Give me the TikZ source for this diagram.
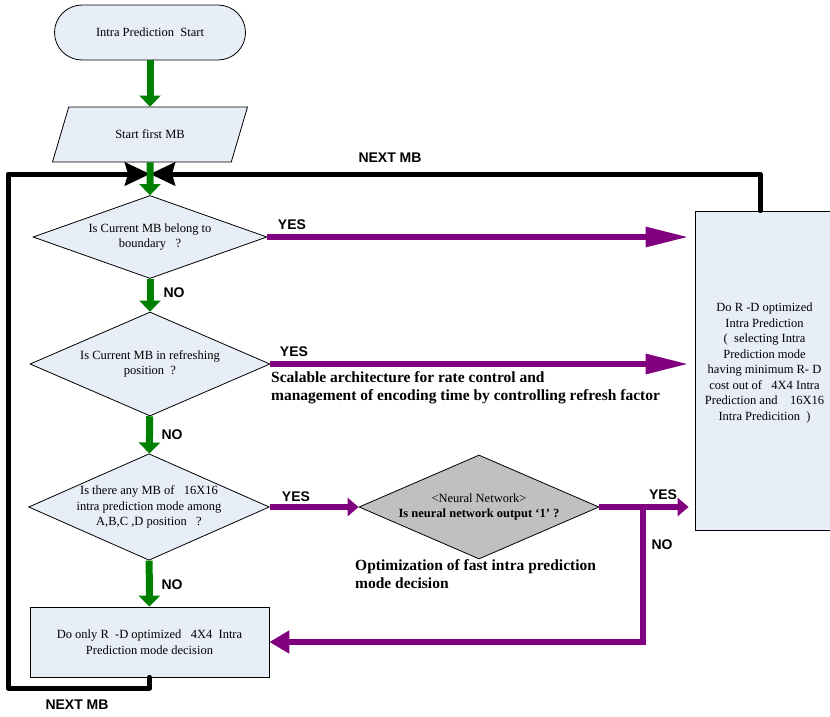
\documentclass[tikz,border=0pt]{standalone}
\usepackage{fontspec}
\setmainfont{Liberation Serif}
\setsansfont{Liberation Sans}
\usepackage{tikz}
\usetikzlibrary{arrows.meta}
\usetikzlibrary{shapes.geometric}
\definecolor{boxblue}{RGB}{232,238,247}
\definecolor{nngray}{RGB}{192,192,192}
\definecolor{flowgreen}{RGB}{0,128,0}
\definecolor{flowpurple}{RGB}{128,0,128}
\tikzset{base/.style = {draw, line width = 0.8pt, fill = boxblue, align = center,
    font = \fontsize{12.5}{15.5}\selectfont}}
\tikzset{term/.style = {base, rounded corners = 27.5pt, minimum width = 191pt, minimum height = 55pt}}
\tikzset{io/.style = {base, trapezium, trapezium left angle = 64, trapezium right angle = 116,
    trapezium stretches = true, minimum width = 196pt, minimum height = 55pt}}
\tikzset{decision/.style = {base, diamond, inner sep = 0pt}}
\tikzset{process/.style = {base, rectangle}}
\tikzset{yesno/.style = {font = \sffamily\bfseries\fontsize{14}{14}\selectfont, inner sep = 0}}
\tikzset{note/.style = {font = \bfseries\fontsize{15.5}{18}\selectfont, align = left, inner sep = 0}}
\tikzset{garrow/.style = {draw = flowgreen, line width = 7pt, -{Triangle[width = 21pt, length = 11pt]}}}
\tikzset{parrow/.style = {draw = flowpurple, line width = 6pt}}
\tikzset{loopline/.style = {draw, line width = 5pt, line join = round, line cap = round,
    -{Stealth[width = 23pt, length = 25pt, inset = 3pt]}}}

\begin{document}
\begin{tikzpicture}[x = 1pt, y = -1pt]
      \useasboundingbox (0, 0) rectangle (830, 716);

      \node [term] (start) at (150, 32.5) {Intra Prediction\ \ Start};
      \node [io] (first) at (150, 134.5) {Start first MB};

      \node [decision, aspect = 2.82, minimum width = 234, minimum height = 83] (q1) at (150, 237)
        {Is Current MB belong to\\boundary\ \ \ ?};
      \node [decision, aspect = 2.31, minimum width = 240, minimum height = 104] (q2) at (150, 364)
        {Is Current MB in refreshing\\position\ \ ?};
      \node [decision, aspect = 2.26, minimum width = 240, minimum height = 106] (q3) at (149, 507)
        {Is there any MB of\ \ \ 16X16\\intra prediction mode among\\A,B,C\ ,D position\ \ \ ?};
      \node [decision, aspect = 2.31, fill = nngray, minimum width = 240, minimum height = 104] (nn) at (479, 507)
        {{\fontsize{12.5}{15.5}\selectfont <Neural Network>}\\\bfseries Is neural network output `1' ?};

      \node [process, minimum width = 239, minimum height = 70] (dobox) at (149.5, 642)
        {Do only R\ \ -D optimized\ \ \ 4X4\ \ Intra\\Prediction mode decision};
      \node [process, text depth = 18pt, minimum width = 139, minimum height = 319] (rdbox) at (764.5, 370.5)
        {Do R -D optimized\\Intra Prediction\\(\ \ selecting Intra\\Prediction mode\\having minimum R-\ D\\
         cost out of\ \ \ 4X4\ Intra\\Prediction and\ \ \ \ 16X16\\Intra Predicition\ \ )};

      % next MB loop
      \coordinate (join) at (150, 174);
      \coordinate (corner) at (8, 688);
      \draw [loopline] (dobox.south) |- (corner) |- (join);
      \draw [loopline] ([xshift = -4.5pt]rdbox.north) |- (join);
      \node [yesno] (next1) at (390, 158) {NEXT MB};
      \node [yesno] (next2) at (77, 705) {NEXT MB};

      \draw [garrow] (start) -- (first);
      \draw [garrow] (first) -- (q1);
      \draw [garrow] (q1) -- (q2);
      \draw [garrow] (q2) -- (q3);
      \draw [garrow] (q3) -- (dobox);
      \node [yesno] (no1) at (174, 293) {NO};
      \node [yesno] (no2) at (172, 435) {NO};
      \node [yesno] (no3) at (172, 585) {NO};

      \draw [parrow, -{Triangle[width = 19pt, length = 43pt]}, shorten > = 6pt] (q1.east) -- (q1.east -| rdbox.west);
      \draw [parrow, -{Triangle[width = 19pt, length = 43pt]}, shorten > = 6pt] (q2.east) -- (q2.east -| rdbox.west);
      \draw [parrow, -{Triangle[width = 18pt, length = 11pt]}] (q3.east) -- (nn.west);
      \draw [parrow, -{Triangle[width = 18pt, length = 11pt]}, shorten > = 6pt] (nn.east) -- (nn.east -| rdbox.west);
      \coordinate (split) at (643, 507);
      \draw [parrow, line cap = round, -{Triangle[width = 22pt, length = 20pt]}] (split) |- (dobox.east);
      \node [yesno] (yes1) at (292, 225) {YES};
      \node [yesno] (yes2) at (294, 352) {YES};
      \node [yesno] (yes3) at (296, 497) {YES};
      \node [yesno] (yes4) at (663, 495) {YES};
      \node [yesno] (no4) at (662, 545) {NO};

      \node [note, anchor = north west] (scalable) at (271, 371.5)
        {Scalable architecture for rate control and\\management of encoding time by controlling refresh factor};
      \node [note, anchor = north west] (fastmode) at (355, 559.5)
        {Optimization of fast intra prediction\\mode decision};
    \end{tikzpicture}
\end{document}
